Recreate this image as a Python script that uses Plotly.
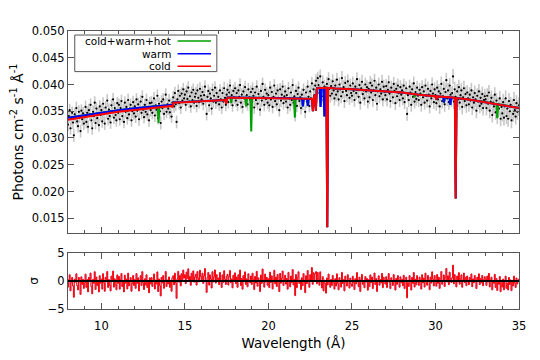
import numpy as np
import plotly.graph_objects as go

# ---------------- data (flux in units of 1e-4 photons cm^-2 s^-1 A^-1), bins of 0.05 A from 8 A ----------------
WL_START, WL_STEP = 8.0, 0.05
FLUX_E4 = [
    325, 341, 352, 318, 336, 347, 329, 305, 344, 338, 356, 331, 322, 349, 340, 313, 351, 335, 346, 327,  # 8
    339, 358, 330, 347, 321, 352, 344, 362, 333, 318, 349, 341, 366, 328, 355, 337, 346, 324, 359, 343,  # 9
    352, 331, 364, 345, 327, 357, 348, 370, 336, 353, 341, 329, 361, 350, 372, 338, 356, 343, 333, 365,  # 10
    347, 362, 335, 356, 369, 341, 352, 330, 366, 349, 358, 337, 371, 344, 355, 362, 333, 350, 367, 346,  # 11
    359, 340, 372, 351, 363, 335, 356, 368, 347, 377, 353, 339, 362, 349, 371, 344, 358, 333, 365, 352,  # 12
    366, 347, 359, 374, 342, 361, 353, 379, 337, 364, 350, 328, 368, 356, 372, 345, 360, 381, 349, 363,  # 13
    355, 370, 348, 362, 340, 366, 376, 359, 384, 363, 330, 372, 388, 365, 379, 357, 383, 370, 391, 374,  # 14
    381, 362, 387, 373, 394, 368, 378, 359, 385, 371, 390, 366, 377, 383, 360, 389, 375, 367, 392, 379,  # 15
    372, 386, 364, 380, 396, 369, 345, 377, 388, 361, 383, 374, 355, 390, 368, 379, 394, 366, 384, 371,  # 16
    377, 363, 389, 372, 357, 384, 368, 393, 375, 362, 381, 390, 367, 385, 398, 372, 380, 361, 388, 376,  # 17
    393, 370, 384, 362, 389, 377, 399, 366, 381, 358, 387, 374, 395, 368, 380, 363, 391, 376, 372, 386,  # 18
    368, 392, 379, 357, 385, 371, 396, 364, 382, 375, 353, 388, 370, 401, 377, 362, 390, 373, 383, 366,  # 19
    380, 361, 394, 372, 386, 358, 377, 398, 369, 383, 363, 389, 375, 352, 391, 370, 381, 396, 365, 378,  # 20
    387, 368, 380, 357, 393, 374, 362, 385, 371, 399, 366, 378, 343, 388, 360, 382, 394, 369, 376, 356,  # 21
    381, 364, 390, 372, 349, 385, 368, 396, 377, 360, 387, 374, 402, 366, 391, 380, 398, 407, 386, 412,  # 22
    399, 384, 415, 392, 378, 404, 371, 396, 388, 366, 401, 385, 410, 392, 379, 397, 383, 406, 389, 374,  # 23
    398, 381, 409, 387, 372, 400, 391, 378, 412, 386, 395, 369, 403, 388, 380, 406, 392, 375, 398, 384,  # 24
    379, 402, 388, 371, 396, 384, 410, 390, 377, 399, 366, 393, 405, 382, 389, 374, 400, 387, 395, 368,  # 25
    392, 376, 403, 385, 398, 371, 389, 407, 380, 394, 364, 387, 400, 378, 391, 383, 405, 372, 396, 386,  # 26
    380, 397, 372, 390, 404, 383, 369, 394, 386, 376, 401, 388, 365, 392, 378, 398, 384, 371, 395, 381,  # 27
    389, 374, 398, 367, 384, 393, 345, 380, 371, 396, 385, 362, 391, 377, 402, 368, 386, 373, 394, 379,  # 28
    371, 390, 383, 362, 395, 376, 387, 366, 398, 379, 370, 392, 381, 359, 388, 374, 400, 383, 367, 391,  # 29
    380, 365, 394, 372, 387, 359, 383, 401, 369, 378, 392, 363, 386, 408, 374, 389, 367, 398, 381, 372,  # 30
    384, 415, 368, 391, 377, 360, 387, 372, 395, 366, 380, 389, 358, 376, 393, 369, 382, 361, 385, 374,  # 31
    363, 381, 370, 389, 357, 376, 366, 384, 372, 351, 379, 368, 387, 360, 375, 364, 382, 356, 371, 378,  # 32
    372, 356, 379, 364, 385, 351, 368, 375, 343, 366, 359, 381, 348, 370, 340, 362, 355, 374, 336, 358,  # 33
    346, 367, 338, 359, 374, 341, 355, 336, 369, 350, 362, 333, 358, 345, 371, 352, 340, 365, 349, 356,  # 34
    361,                                                                                                 # 35
]
# 1-sigma error per whole Angstrom (8..35), units 1e-4
ERR_E4 = [12, 12, 12, 12, 12, 12, 12, 12, 12, 12, 12, 12, 12, 12, 12,
          13, 13, 13, 13, 13, 13, 13, 14, 14, 14, 14, 15, 15]

# model continua: knots (wavelength, value in 1e-4)
WARM_KX = [8, 9, 10, 11, 12, 13, 14, 14.22, 14.25, 14.32, 15, 16, 17, 17.42, 17.47, 17.55,
           18, 20, 22, 22.70, 22.92, 23.5, 24, 25, 26, 27, 28, 29, 30, 31, 32, 33, 34, 35]
WARM_KY = [338, 343, 348, 352, 355.5, 358.5, 361, 362, 359, 367, 367.5, 369, 370.5, 371, 368, 375.5,
           375.5, 375, 374, 373, 393.5, 394, 392.5, 391, 389, 387, 385, 381, 378, 375.5, 372, 367, 362, 356]
COLD_KX = [8, 9, 10, 11, 12, 13, 14, 14.22, 14.25, 14.32, 15, 16, 17, 17.42, 17.47, 17.55,
           18, 20, 22, 22.70, 22.92, 23.5, 24, 25, 26, 27, 28, 29, 30, 31, 32, 33, 34, 35]
COLD_KY = [334, 339, 345, 349, 352.5, 356, 359.5, 360, 357, 366, 367, 369, 370, 371, 364, 375,
           375, 374.5, 374, 373, 393, 394, 392.5, 391, 389, 387, 385, 381, 378, 375.5, 372, 367, 362, 356]

# absorption lines: (centre in A, line bottom in 1e-4)
HOT_LINES = [(11.56, 349), (13.42, 328), (17.77, 365), (18.67, 359), (18.97, 312),
             (21.58, 338), (28.75, 376), (33.70, 337)]
WARM_LINES = [(22.06, 359), (22.36, 360), (23.12, 358), (23.35, 340), (30.51, 366), (30.89, 362)]
COLD_LINES = [(22.66, 350), (22.84, 351), (23.52, 133), (30.05, 372), (31.21, 187)]

SCALE = 1e-4
LINE_HW = 0.05


def model_curve(kx, ky, lines):
    kx = np.asarray(kx, float)
    ky = np.asarray(ky, float)
    xs, ys = [], []
    for x, y in zip(kx, ky):
        if all(abs(x - c) > LINE_HW for c, _ in lines):
            xs.append(x)
            ys.append(y)
    for c, b in lines:
        for xx, yy in [(c - LINE_HW, np.interp(c - LINE_HW, kx, ky)), (c, b),
                       (c + LINE_HW, np.interp(c + LINE_HW, kx, ky))]:
            xs.append(xx)
            ys.append(yy)
    order = np.argsort(xs, kind="stable")
    return np.asarray(xs)[order], np.asarray(ys)[order] * SCALE


wl = WL_START + WL_STEP * np.arange(len(FLUX_E4))
flux = np.asarray(FLUX_E4, float) * SCALE
err = np.asarray(ERR_E4, float)[np.minimum((wl - 8).astype(int), len(ERR_E4) - 1)] * SCALE
cont = np.interp(wl, WARM_KX, WARM_KY) * SCALE
resid = (flux - cont) / err

gx, gy = model_curve(WARM_KX, WARM_KY, HOT_LINES + WARM_LINES + COLD_LINES)
bx, by = model_curve(WARM_KX, WARM_KY, WARM_LINES + COLD_LINES)
rx, ry = model_curve(COLD_KX, COLD_KY, COLD_LINES)

FONT = "DejaVu Sans"
GREEN, BLUE, RED = "#00a000", "#0000ff", "#ff0000"
FRAME = "#555555"

fig = go.Figure()
fig.add_trace(go.Scatter(x=wl, y=flux, mode="markers",
                         marker=dict(color="black", size=2.2),
                         error_y=dict(type="data", array=err, color="#c8c8c8", thickness=1.6, width=0),
                         xaxis="x", yaxis="y", showlegend=False))
fig.add_trace(go.Scatter(x=gx, y=gy, mode="lines", line=dict(color=GREEN, width=2),
                         name="cold+warm+hot", xaxis="x", yaxis="y", showlegend=False))
fig.add_trace(go.Scatter(x=bx, y=by, mode="lines", line=dict(color=BLUE, width=2),
                         name="warm", xaxis="x", yaxis="y", showlegend=False))
fig.add_trace(go.Scatter(x=rx, y=ry, mode="lines", line=dict(color=RED, width=2),
                         name="cold", xaxis="x", yaxis="y", showlegend=False))
fig.add_trace(go.Scatter(x=wl, y=resid, mode="lines", line=dict(color="#6a3fbf", width=1.0, shape="hvh"),
                         xaxis="x2", yaxis="y2", showlegend=False, opacity=0.6))
fig.add_trace(go.Scatter(x=wl, y=resid, mode="lines", line=dict(color=RED, width=1.0, shape="hvh"),
                         xaxis="x2", yaxis="y2", showlegend=False))

axis_common = dict(showgrid=False, zeroline=False, showline=True, linecolor=FRAME, linewidth=1,
                   mirror="ticks", ticks="inside", tickcolor=FRAME, tickwidth=1, automargin=False,
                   tickfont=dict(family=FONT, size=11.5, color="black"))

# the page body adds an 8 px offset, so the figure is 8 px smaller than the window
fig.update_layout(
    width=532, height=352,
    margin=dict(l=60, r=21, t=23, b=51),
    paper_bgcolor="white", plot_bgcolor="white",
    font=dict(family=FONT, size=12, color="black"),
    showlegend=False,
    xaxis=dict(domain=[0, 1], anchor="y", range=[8, 35], tick0=0, dtick=5, ticklen=6,
               showticklabels=False,
               minor=dict(dtick=1, ticklen=3, ticks="inside", tickcolor=FRAME), **axis_common),
    yaxis=dict(domain=[0.273, 1], anchor="x", range=[0.01222, 0.050], tick0=0, dtick=0.005,
               tickformat=".3f", ticklen=6,
               title=dict(text="Photons cm<sup>-2</sup> s<sup>-1</sup> Å<sup>-1</sup>",
                          font=dict(family=FONT, size=14), standoff=10), **axis_common),
    xaxis2=dict(domain=[0, 1], anchor="y2", range=[8, 35], tick0=0, dtick=5, ticklen=6,
                ticklabelstandoff=6,
                minor=dict(dtick=1, ticklen=3, ticks="inside", tickcolor=FRAME),
                title=dict(text="Wavelength (Å)", font=dict(family=FONT, size=13.5), standoff=6),
                **axis_common),
    yaxis2=dict(domain=[0, 0.201], anchor="x2", range=[-5, 5], tickvals=[-5, 0, 5], ticklen=6,
                title=dict(text="σ", font=dict(family=FONT, size=12), standoff=6), **axis_common),
)

# zero line in residual panel
fig.add_shape(type="line", xref="x2 domain", yref="y2", x0=0, x1=1, y0=0, y1=0,
              line=dict(color="black", width=2), layer="above")

# gnuplot-style key: right-aligned text followed by a line sample
fig.add_shape(type="rect", xref="x domain", yref="y domain", x0=0.015, x1=0.330, y0=0.799, y1=0.980,
              line=dict(color=FRAME, width=1), fillcolor="white", layer="above")
key = [("cold+warm+hot", GREEN, 0.950), ("warm", BLUE, 0.887), ("cold", RED, 0.826)]
for label, col, yy in key:
    fig.add_annotation(xref="x domain", yref="y domain", x=0.232, y=yy, text=label, showarrow=False,
                       xanchor="right", yanchor="middle", font=dict(family=FONT, size=10.5, color="black"))
    fig.add_shape(type="line", xref="x domain", yref="y domain", x0=0.243, x1=0.317, y0=yy, y1=yy,
                  line=dict(color=col, width=1.5), layer="above")

fig.write_html("out.html")
